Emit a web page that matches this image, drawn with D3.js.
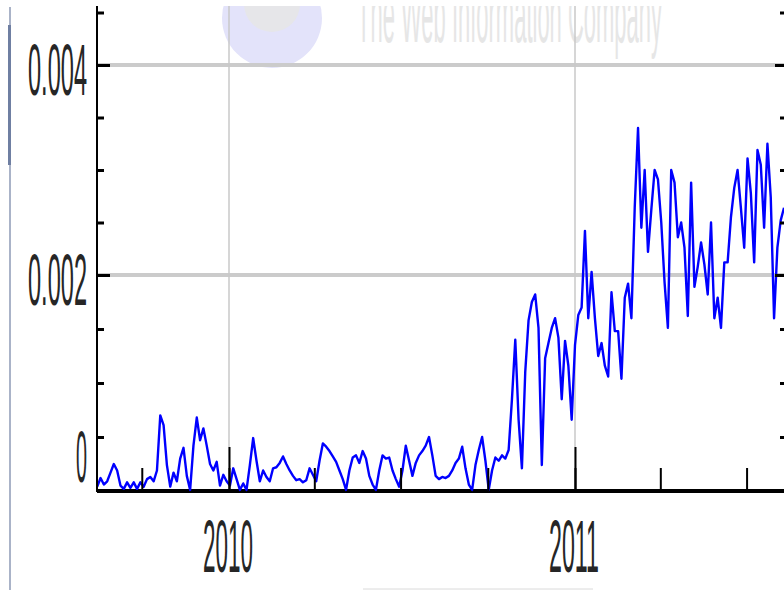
<!DOCTYPE html>
<html>
<head>
  <script src="https://cdnjs.cloudflare.com/ajax/libs/d3/7.8.5/d3.min.js"></script>
  <style>
    body { margin: 0; background: #fff; }
    .lbl { font-family: 'Liberation Sans', Arial, sans-serif; fill: #262626; }
    .mark { font-family: 'Liberation Sans', Arial, sans-serif; fill: #e6e6e6; }
    .line { fill: none; stroke: #0000ff; stroke-width: 2.4; stroke-linejoin: round; }
  </style>
</head>
<body>
  <svg class="chart"></svg>
  <script>
    // daily reach series, one reading every 3.5 days from mid Aug 2009
    var startDate = Date.UTC(2009, 7, 15);
    var stepDays = 3.5;
    var reach = [
      0.00004, 0.00012, 0.00006, 0.00009, 0.00017, 0.00025, 0.00019, 0.00005, 0.00002, 0.00008,
      0.00003, 0.00008, 0.00002, 0.00008, 0.00004, 0.00011, 0.00013, 0.00009, 0.00019, 0.00070,
      0.00061, 0.00024, 0.00004, 0.00017, 0.00009, 0.00030, 0.00040, 0.00014, 0.00001, 0.00042,
      0.00068, 0.00047, 0.00058, 0.00042, 0.00025, 0.00019, 0.00027, 0.00005, 0.00015, 0.00009,
      0.00005, 0.00021, 0.00011, 0.00001, 0.00007, 0.00001, 0.00024, 0.00049, 0.00028, 0.00009,
      0.00019, 0.00013, 0.00009, 0.00021, 0.00022, 0.00026, 0.00032, 0.00025, 0.00019, 0.00014,
      0.00010, 0.00011, 0.00008, 0.00010, 0.00021, 0.00015, 0.00009, 0.00028, 0.00044, 0.00041,
      0.00037, 0.00032, 0.00027, 0.00019, 0.00011, 0.00001, 0.00019, 0.00031, 0.00033, 0.00026,
      0.00037, 0.00030, 0.00014, 0.00006, 0.00001, 0.00019, 0.00033, 0.00030, 0.00031, 0.00019,
      0.00011, 0.00004, 0.00019, 0.00042, 0.00028, 0.00014, 0.00026, 0.00033, 0.00037, 0.00042,
      0.00050, 0.00033, 0.00014, 0.00011, 0.00013, 0.00012, 0.00014, 0.00019, 0.00026, 0.00030,
      0.00041, 0.00021, 0.00006, 0.00001, 0.00024, 0.00038, 0.00050, 0.00028, 0.00001, 0.00019,
      0.00031, 0.00028, 0.00033, 0.00030, 0.00038, 0.00085, 0.00140, 0.00066, 0.00021, 0.00110,
      0.00158, 0.00175, 0.00182, 0.00151, 0.00024, 0.00123, 0.00137, 0.00151, 0.00160, 0.00142,
      0.00085, 0.00139, 0.00116, 0.00066, 0.00135, 0.00163, 0.00170, 0.00242, 0.00160, 0.00203,
      0.00160, 0.00125, 0.00137, 0.00116, 0.00106, 0.00184, 0.00148, 0.00148, 0.00104, 0.00179,
      0.00192, 0.00160, 0.00264, 0.00340, 0.00245, 0.00300, 0.00222, 0.00262, 0.00300, 0.00291,
      0.00250, 0.00193, 0.00151, 0.00300, 0.00288, 0.00236, 0.00250, 0.00226, 0.00162, 0.00288,
      0.00189, 0.00208, 0.00231, 0.00210, 0.00182, 0.00250, 0.00160, 0.00179, 0.00151, 0.00212,
      0.00212, 0.00255, 0.00283, 0.00300, 0.00264, 0.00226, 0.00311, 0.00278, 0.00212, 0.00319,
      0.00305, 0.00245, 0.00325, 0.00274, 0.00160, 0.00226, 0.00252, 0.00264
    ];
    var yTicks = [0, 0.002, 0.004];
    var yTickLabels = ['0', '0.002', '0.004'];
    var yearLabels = ['2010', '2011'];
    var watermark = 'The Web Information Company';

    var width = 784, height = 590;
    var plotLeft = 97, plotRight = 784, plotTop = 6, plotBottom = 491;

    var dates = reach.map(function (d, i) { return new Date(startDate + i * stepDays * 864e5); });

    var xScale = d3.scaleUtc()
      .domain([new Date(Date.UTC(2010, 0, 1)), new Date(Date.UTC(2011, 0, 1))])
      .range([229, 575]);
    var yScale = d3.scaleLinear()
      .domain([0, 0.002, 0.004])
      .range([plotBottom, 275, 65]);

    var svg = d3.select('.chart')
      .attr('width', width)
      .attr('height', height);

    // faded logo + slogan behind the plot
    svg.append('circle').attr('cx', 272).attr('cy', 18).attr('r', 50).attr('fill', '#e3e3fa');
    svg.append('circle').attr('cx', 272).attr('cy', 4).attr('r', 28).attr('fill', '#e6e6e9');
    svg.append('text').attr('class', 'mark')
      .attr('x', 357).attr('y', 42)
      .attr('font-size', 80)
      .attr('textLength', 305).attr('lengthAdjust', 'spacingAndGlyphs')
      .text(watermark);

    // horizontal grid
    svg.selectAll('.hgrid')
      .data(yTicks.filter(function (d) { return d > 0; }))
      .enter().append('line')
      .attr('x1', plotLeft).attr('x2', plotRight)
      .attr('y1', function (d) { return yScale(d); })
      .attr('y2', function (d) { return yScale(d); })
      .attr('stroke', '#cbcbcb').attr('stroke-width', 4);

    // vertical grid at years
    var years = d3.utcYear.range(new Date(Date.UTC(2009, 6, 1)), new Date(Date.UTC(2011, 11, 1)));
    svg.selectAll('.vgrid')
      .data(years)
      .enter().append('line')
      .attr('x1', function (d) { return xScale(d); })
      .attr('x2', function (d) { return xScale(d); })
      .attr('y1', plotTop).attr('y2', plotBottom)
      .attr('stroke', '#c8c8c8').attr('stroke-width', 1.5);

    // bottom base line
    svg.append('line')
      .attr('x1', plotLeft).attr('x2', plotRight)
      .attr('y1', plotBottom).attr('y2', plotBottom)
      .attr('stroke', '#000').attr('stroke-width', 4);

    svg.append('clipPath').attr('id', 'plot')
      .append('rect')
      .attr('x', plotLeft).attr('y', plotTop)
      .attr('width', plotRight - plotLeft).attr('height', plotBottom - plotTop + 2);

    var line = d3.line()
      .x(function (d, i) { return xScale(dates[i]); })
      .y(function (d) { return yScale(d); });

    svg.append('path')
      .datum(reach)
      .attr('class', 'line')
      .attr('clip-path', 'url(#plot)')
      .attr('d', line);

    // left axis with ticks pointing inward
    var minor = d3.range(0.0005, 0.0046, 0.0005).filter(function (d) {
      return Math.abs(d - 0.002) > 1e-6 && Math.abs(d - 0.004) > 1e-6;
    });
    function ticks(g, axis, vals, size) {
      g.call(axis.tickValues(vals).tickSize(size).tickFormat(''))
        .call(function (s) { s.select('.domain').remove(); s.selectAll('text').remove(); })
        .selectAll('line').attr('stroke', '#000').attr('stroke-width', 3);
    }
    svg.append('g').attr('transform', 'translate(' + plotLeft + ',0)')
      .call(ticks, d3.axisRight(yScale), minor, 7);
    svg.append('g').attr('transform', 'translate(' + plotLeft + ',0)')
      .call(ticks, d3.axisRight(yScale), [0.002, 0.004], 13);
    svg.append('line')
      .attr('x1', plotLeft).attr('x2', plotLeft).attr('y1', plotTop).attr('y2', plotBottom + 1)
      .attr('stroke', '#000').attr('stroke-width', 2);

    // right side ticks
    svg.append('g').attr('transform', 'translate(' + plotRight + ',0)')
      .call(ticks, d3.axisLeft(yScale), minor, 4);
    svg.append('g').attr('transform', 'translate(' + plotRight + ',0)')
      .call(ticks, d3.axisLeft(yScale), [0.002, 0.004], 9);

    // bottom ticks: quarters and years
    var quarters = d3.utcMonth.every(3).range(new Date(Date.UTC(2009, 7, 15)), new Date(Date.UTC(2011, 7, 10)));
    function xticks(g, vals, size) {
      g.call(d3.axisTop(xScale).tickValues(vals).tickSize(size).tickFormat(''))
        .call(function (s) { s.select('.domain').remove(); s.selectAll('text').remove(); })
        .selectAll('line').attr('stroke', '#000').attr('stroke-width', 2);
    }
    svg.append('g').attr('transform', 'translate(0,' + plotBottom + ')')
      .call(xticks, quarters, 23);
    svg.append('g').attr('transform', 'translate(0,' + plotBottom + ')')
      .call(xticks, years, 44);

    // y labels, tall and narrow
    svg.selectAll('.ylbl')
      .data(yTicks)
      .enter().append('text')
      .attr('class', 'lbl')
      .attr('x', 87)
      .attr('y', function (d) { return d === 0 ? yScale(d) - 9 : yScale(d) + 30; })
      .attr('font-size', 72)
      .attr('text-anchor', 'end')
      .attr('textLength', function (d, i) {
        var s = yTickLabels[i];
        var dots = s.split('.').length - 1;
        return 14 * (s.length - dots) + 6 * dots - 3;
      })
      .attr('lengthAdjust', 'spacingAndGlyphs')
      .text(function (d, i) { return yTickLabels[i]; });

    svg.selectAll('.xlbl')
      .data(years)
      .enter().append('text')
      .attr('class', 'lbl')
      .attr('x', function (d) { return xScale(d) - 1; })
      .attr('y', 572)
      .attr('font-size', 75)
      .attr('text-anchor', 'middle')
      .attr('textLength', 50)
      .attr('lengthAdjust', 'spacingAndGlyphs')
      .text(function (d, i) { return yearLabels[i]; });

    // page edges around the cropped chart
    svg.append('rect').attr('x', 0).attr('y', 0).attr('width', width).attr('height', plotTop).attr('fill', '#fff');
    svg.append('line').attr('x1', 10).attr('x2', 10).attr('y1', 7).attr('y2', 590)
      .attr('stroke', '#8e9ab6').attr('stroke-width', 1.5);
    svg.append('line').attr('x1', 9.5).attr('x2', 9.5).attr('y1', 25).attr('y2', 165)
      .attr('stroke', '#6f7fa2').attr('stroke-width', 3);
    svg.append('line').attr('x1', 363).attr('x2', 593).attr('y1', 589).attr('y2', 589)
      .attr('stroke', '#dadada').attr('stroke-width', 1);
  </script>
</body>
</html>
